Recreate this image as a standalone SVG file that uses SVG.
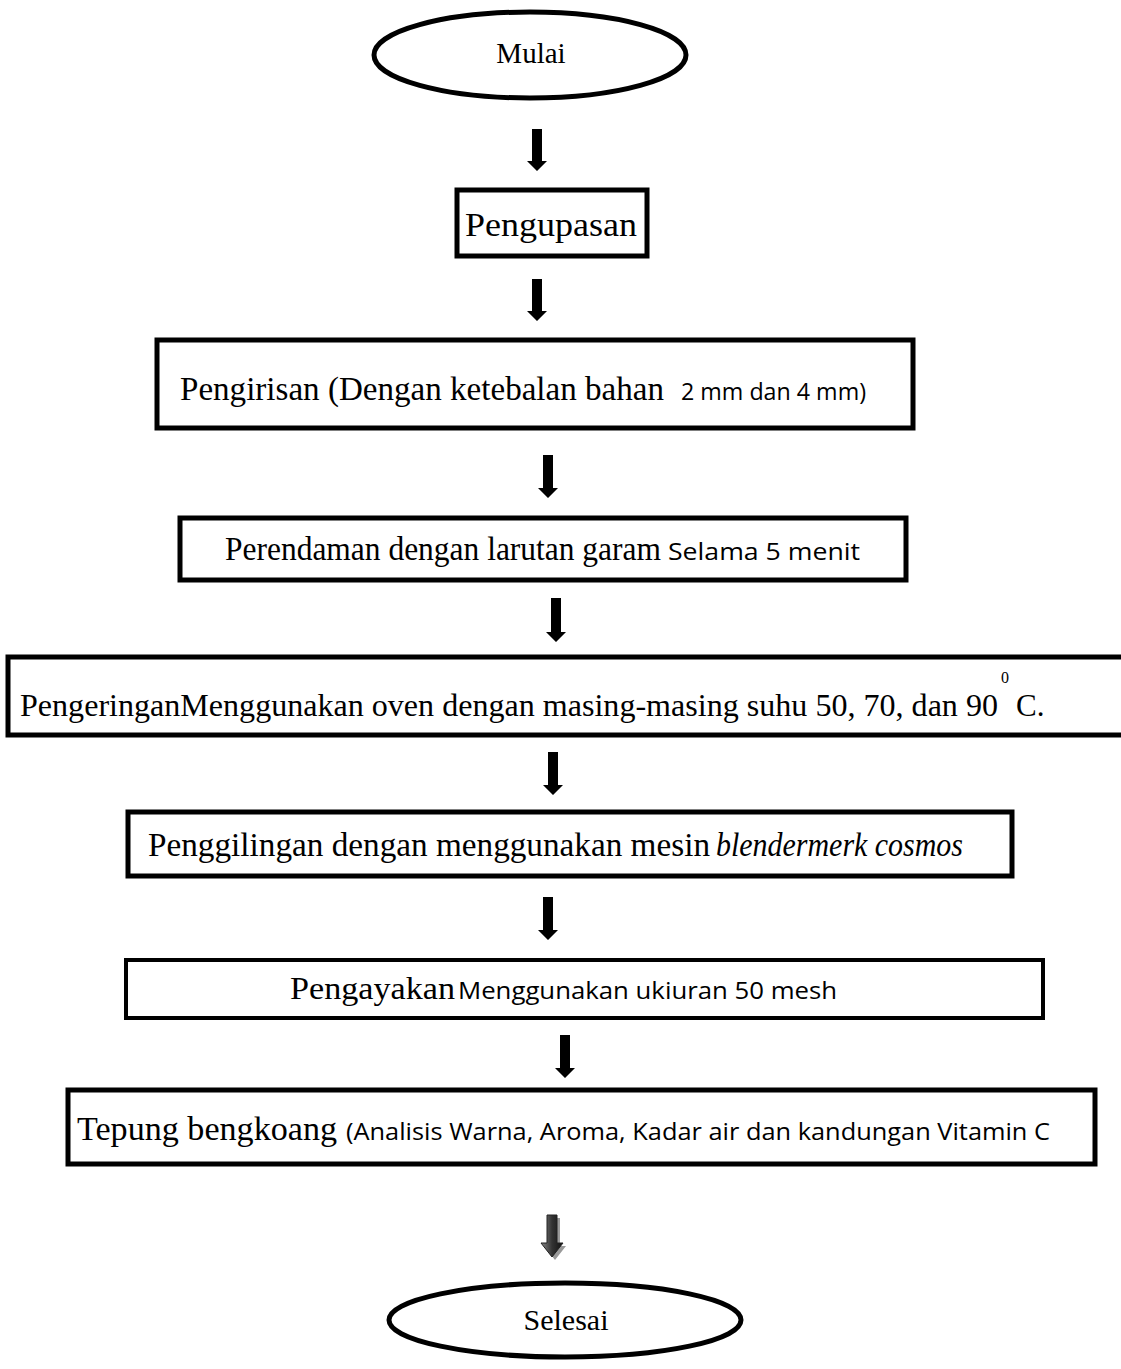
<svg xmlns="http://www.w3.org/2000/svg" width="1121" height="1369" viewBox="0 0 1121 1369">
<defs>
<style>
.box{fill:#fff;stroke:#000;stroke-width:5}
.ell{fill:#fff;stroke:#000;stroke-width:5}
.t{font-family:"Liberation Serif","Times New Roman",serif;font-size:33px;fill:#000}
.s{font-family:"Open Sans","Liberation Sans",sans-serif;font-size:24px}
.arr{fill:#000}
</style>
<linearGradient id="g" x1="0" y1="0" x2="1" y2="0">
<stop offset="0" stop-color="#888"/>
<stop offset="0.5" stop-color="#333"/>
<stop offset="1" stop-color="#111"/>
</linearGradient>
</defs>
<rect width="1121" height="1369" fill="#fff"/>
<g id="connectors">
<path class="arr" d="M532,129 H542 V161 H547 L537,171 L527,161 H532 Z"/>
<path class="arr" d="M532,279 H542 V311 H547 L537,321 L527,311 H532 Z"/>
<path class="arr" d="M543,455 H553 V488 H558 L548,498 L538,488 H543 Z"/>
<path class="arr" d="M551,598 H561 V632 H566 L556,642 L546,632 H551 Z"/>
<path class="arr" d="M548,752 H558 V785 H563 L553,795 L543,785 H548 Z"/>
<path class="arr" d="M543,897 H553 V930 H558 L548,940 L538,930 H543 Z"/>
<path class="arr" d="M560,1035 H570 V1068 H575 L565,1078 L555,1068 H560 Z"/>
<path d="M550,1218 H560 V1246 H566 L555,1260 L544,1246 H550 Z" fill="#999"/>
<path d="M547,1215 H557 V1243 H563 L552,1257 L541,1243 H547 Z" fill="url(#g)" stroke="#222" stroke-width="1"/>
</g>
<g id="start">
<ellipse class="ell" cx="530" cy="55" rx="156" ry="43"/>
<text class="t" x="531" y="63" text-anchor="middle" style="font-size:29px">Mulai</text>
</g>
<g id="pengupasan">
<rect class="box" x="457" y="190" width="190" height="66"/>
<text class="t" x="465" y="236" textLength="172" lengthAdjust="spacingAndGlyphs">Pengupasan</text>
</g>
<g id="pengirisan">
<rect class="box" x="157" y="340" width="756" height="88"/>
<text class="t" y="400"><tspan x="180" textLength="484" lengthAdjust="spacingAndGlyphs">Pengirisan (Dengan ketebalan bahan</tspan><tspan class="s" x="681" textLength="185" lengthAdjust="spacingAndGlyphs">2 mm dan 4 mm)</tspan></text>
</g>
<g id="perendaman">
<rect class="box" x="180" y="518" width="726" height="62"/>
<text class="t" y="560"><tspan x="225" textLength="436" lengthAdjust="spacingAndGlyphs">Perendaman dengan larutan garam</tspan><tspan class="s" x="668" textLength="192" lengthAdjust="spacingAndGlyphs">Selama 5 menit</tspan></text>
</g>
<g id="pengeringan">
<rect class="box" x="8" y="657" width="1120" height="78"/>
<text class="t" x="20" y="716" style="font-size:31px" textLength="978" lengthAdjust="spacingAndGlyphs">PengeringanMenggunakan oven dengan masing-masing suhu 50, 70, dan 90</text>
<text class="t" x="1001" y="683" style="font-size:16px">0</text>
<text class="t" x="1016" y="716" style="font-size:31px">C.</text>
</g>
<g id="penggilingan">
<rect class="box" x="128" y="812" width="884" height="64"/>
<text class="t" y="856"><tspan x="148" textLength="562" lengthAdjust="spacingAndGlyphs">Penggilingan dengan menggunakan mesin</tspan><tspan x="716" font-style="italic" textLength="247" lengthAdjust="spacingAndGlyphs">blendermerk cosmos</tspan></text>
</g>
<g id="pengayakan">
<rect class="box" x="126" y="960" width="917" height="58" style="stroke-width:4"/>
<text class="t" y="999" style="font-size:32px"><tspan x="290" textLength="165" lengthAdjust="spacingAndGlyphs">Pengayakan</tspan><tspan class="s" x="458" textLength="379" lengthAdjust="spacingAndGlyphs">Menggunakan ukiuran 50 mesh</tspan></text>
</g>
<g id="tepung">
<rect class="box" x="68" y="1090" width="1027" height="74"/>
<text class="t" y="1140"><tspan x="77" textLength="260" lengthAdjust="spacingAndGlyphs">Tepung bengkoang</tspan><tspan class="s" x="346" textLength="704" lengthAdjust="spacingAndGlyphs">(Analisis Warna, Aroma, Kadar air dan kandungan Vitamin C</tspan></text>
</g>
<g id="end">
<ellipse class="ell" cx="565" cy="1320" rx="176" ry="37"/>
<text class="t" x="566" y="1330" text-anchor="middle" style="font-size:30px">Selesai</text>
</g>
</svg>
